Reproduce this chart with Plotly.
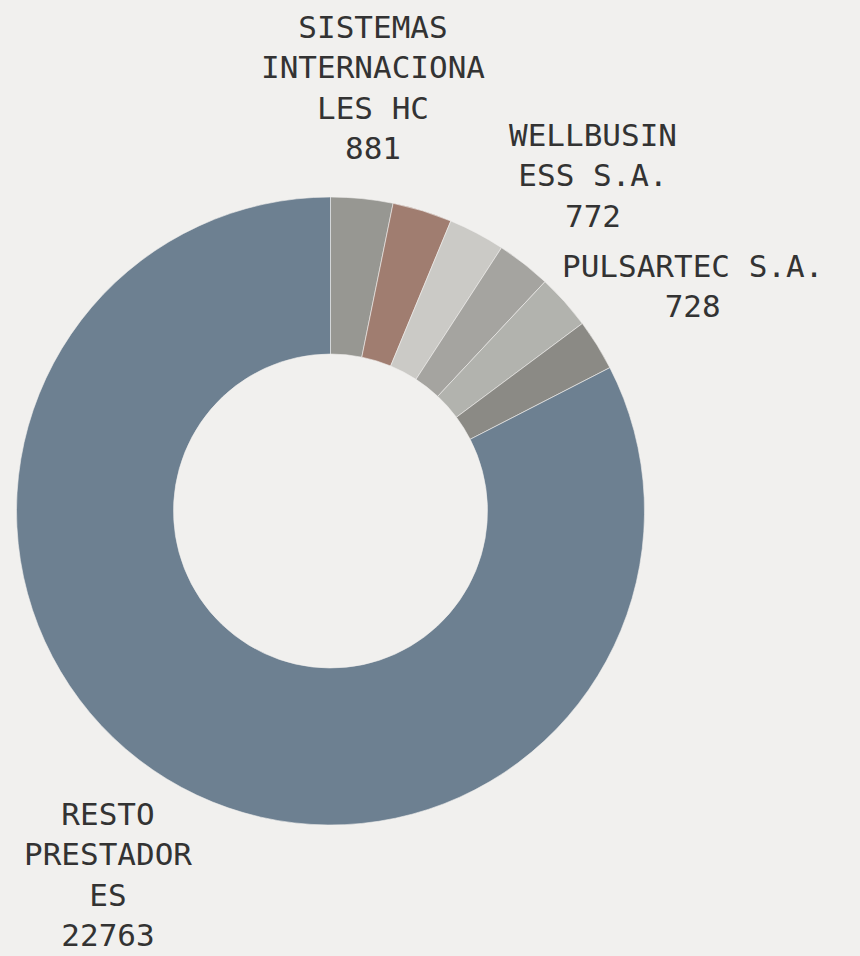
import math
import plotly.graph_objects as go

# Data (clockwise from 12 o'clock)
names = ["SISTEMAS INTERNACIONALES HC", "PRESTADOR B", "PRESTADOR C",
         "WELLBUSINESS S.A.", "PRESTADOR E", "PULSARTEC S.A.", "RESTO PRESTADORES"]
display_names = ["SISTEMAS<br>INTERNACIONA<br>LES HC", "", "",
                 "WELLBUSIN<br>ESS S.A.", "", "PULSARTEC S.A.", "RESTO<br>PRESTADOR<br>ES"]
values = [881, 845, 802, 772, 785, 728, 22763]
show_label = [True, False, False, True, False, True, True]
colors = ["#979792", "#a07d70", "#cbcac6", "#a5a4a0", "#b2b3ae", "#8b8a85", "#6d8091"]

W, H = 860, 956
cx, cy, r = 330.5, 511, 314
label_r = 426  # label distance from centre, px

fig = go.Figure(go.Pie(
    labels=names,
    values=values,
    textinfo="none",
    hole=0.5,
    sort=False,
    direction="clockwise",
    rotation=0,
    marker=dict(colors=colors, line=dict(color="#f1f0ee", width=0.6)),
    showlegend=False,
    hoverinfo="label+value",
    domain=dict(x=[(cx - r) / W, (cx + r) / W], y=[(H - cy - r) / H, (H - cy + r) / H]),
))

# Outside labels at each labelled slice's mid-angle
total = sum(values)
cum = 0
annotations = []
for d, v, s in zip(display_names, values, show_label):
    mid = (cum + v / 2) / total * 2 * math.pi
    cum += v
    if not s:
        continue
    px = cx + label_r * math.sin(mid)
    py = cy - label_r * math.cos(mid)
    annotations.append(dict(
        x=px / W, y=1 - py / H, xref="paper", yref="paper",
        text=f"{d}<br>{v}", showarrow=False,
        xanchor="center", yanchor="middle", align="center",
        font=dict(family="DejaVu Sans Mono", size=31, color="#333333"),
    ))

fig.update_layout(
    width=W, height=H,
    margin=dict(l=0, r=0, t=0, b=0),
    paper_bgcolor="#f1f0ee",
    plot_bgcolor="#f1f0ee",
    annotations=annotations,
)

fig.write_html("out.html", config={"displayModeBar": False},
               post_script="document.body.style.margin='0';")
